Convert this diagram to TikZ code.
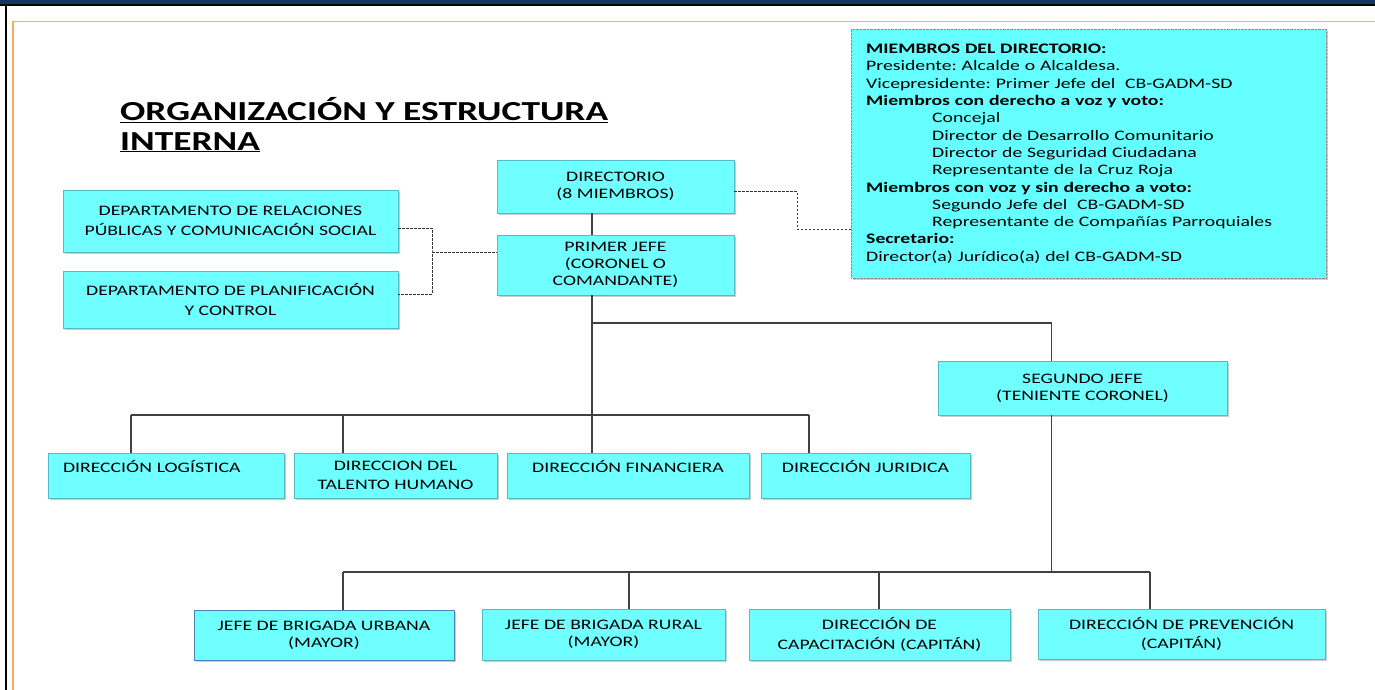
\documentclass[tikz,border=0pt]{standalone}
\usepackage{fontspec}
\setmainfont{Carlito}[FakeStretch=1.36]
\usetikzlibrary{shadows}
\definecolor{cian}{RGB}{112,255,255}
\definecolor{ciancaja}{RGB}{102,255,255}
\definecolor{bordecian}{RGB}{86,186,198}
\definecolor{azulborde}{RGB}{79,129,189}
\definecolor{marino}{RGB}{23,54,93}
\definecolor{naranja}{RGB}{247,170,105}
\frenchspacing

\begin{document}
\begin{tikzpicture}[x=1pt,y=-1pt,
	caja/.style={draw=bordecian, fill=cian, line width=0.8pt, align=center, inner sep=1pt,
		drop shadow={shadow xshift=1.5pt, shadow yshift=-2pt, opacity=0.4},
		font=\fontsize{14.5}{17}\selectfont},
	arriba/.style={text height=10pt, text depth=17pt},
	ancho/.style={font=\fontsize{14.5}{19.5}\selectfont},
	linea/.style={line width=1.2pt, color=black!75},
	punteado/.style={line width=0.9pt, dash pattern=on 2.5pt off 1.5pt, color=black!80}]

	\useasboundingbox (0,0) rectangle (1375,690);
	\fill[white] (0,0) rectangle (1375,690);

	%%%%% MARCO %%%%%
	\fill[marino] (0,0) rectangle (1375,4.5);
	\draw[line width=2pt] (0,5.5) -- (1375,5.5);
	\draw[line width=2pt] (6,5) -- (6,690);
	\draw[naranja, line width=1.5pt] (1375,21.5) -- (13,21.5) -- (13,690);

	\node[anchor=north west, inner sep=0pt, align=left, font=\bfseries\fontsize{27.5}{30}\selectfont] (titulo) at (120,97)
		{\underline{ORGANIZACIÓN Y ESTRUCTURA}\\\underline{INTERNA}};

	%%%%% CAJAS %%%%%
	\node[caja, minimum width=237, minimum height=53] (dir) at (615.5,186.5) {DIRECTORIO\\(8 MIEMBROS)};
	\node[caja, minimum width=237, minimum height=60] (pj) at (615.5,265) {PRIMER JEFE\\(CORONEL O\\COMANDANTE)};

	\node[caja, font=\fontsize{14.5}{20}\selectfont, minimum width=335, minimum height=62] (drp) at (230.5,221)
		{DEPARTAMENTO DE RELACIONES\\PÚBLICAS Y COMUNICACIÓN SOCIAL};
	\node[caja, font=\fontsize{14.5}{20}\selectfont, minimum width=335, minimum height=57] (dpc) at (230.5,299.5)
		{DEPARTAMENTO DE PLANIFICACIÓN\\Y CONTROL};

	\node[caja, minimum width=289, minimum height=54] (sj) at (1082.5,388) {SEGUNDO JEFE\\(TENIENTE CORONEL)};

	\node[caja, arriba, align=left, text width=206, inner xsep=15pt, minimum height=45] (dlog) at (166,475.5) {DIRECCIÓN LOGÍSTICA};
	\node[caja, ancho, minimum width=203, minimum height=45] (dtal) at (395.5,475.5) {DIRECCION DEL\\TALENTO HUMANO};
	\node[caja, arriba, minimum width=242, minimum height=45] (dfin) at (628,475.5) {DIRECCIÓN FINANCIERA};
	\node[caja, arriba, minimum width=209, minimum height=45] (djur) at (865.5,475.5) {DIRECCIÓN JURIDICA};

	\node[caja, draw=azulborde, minimum width=260, minimum height=50] (bur) at (324,635) {JEFE DE BRIGADA URBANA\\(MAYOR)};
	\node[caja, minimum width=243, minimum height=51] (bru) at (603.5,634.5) {JEFE DE BRIGADA RURAL\\(MAYOR)};
	\node[caja, ancho, minimum width=261, minimum height=51] (bcap) at (879.5,634.5) {DIRECCIÓN DE\\CAPACITACIÓN (CAPITÁN)};
	\node[caja, ancho, minimum width=287, minimum height=50] (bprev) at (1181.5,634) {DIRECCIÓN DE PREVENCIÓN\\(CAPITÁN)};

	\node[draw=black!45, densely dotted, fill=ciancaja, anchor=north west, minimum width=475, minimum height=249,
		text width=445, inner xsep=15pt, align=left, font=\fontsize{14.5}{17.3}\selectfont,
		drop shadow={shadow xshift=1.5pt, shadow yshift=-2pt, opacity=0.4}] (miem) at (851,29)
		{\textbf{MIEMBROS DEL DIRECTORIO:}\\
		Presidente: Alcalde o Alcaldesa.\\
		Vicepresidente: Primer Jefe del\ \ CB-GADM-SD\\
		\textbf{Miembros con derecho a voz y voto:}\\
		\hspace*{66pt}Concejal\\
		\hspace*{66pt}Director de Desarrollo Comunitario\\
		\hspace*{66pt}Director de Seguridad Ciudadana\\
		\hspace*{66pt}Representante de la Cruz Roja\\
		\textbf{Miembros con voz y sin derecho a voto:}\\
		\hspace*{66pt}Segundo Jefe del\ \ CB-GADM-SD\\
		\hspace*{66pt}Representante de Compañías Parroquiales\\
		\textbf{Secretario:}\\
		Director(a) Jurídico(a) del CB-GADM-SD};

	%%%%% CONECTORES %%%%%
	\foreach \n/\x in {dlog/131, dtal/343, dfin/592, djur/809}
		\draw[linea] (\x,415) coordinate (r-\n) -- (r-\n |- \n.north);
	\draw[linea] (r-dlog) -- (r-djur);
	\draw[linea] (dir.south -| r-dfin) -- (pj.north -| r-dfin);
	\draw[linea] (pj.south -| r-dfin) -- (r-dfin);

	\coordinate (codo) at (1051.5,323);
	\draw[linea] (r-dfin |- codo) -- (codo) -- (codo |- sj.north);

	\foreach \n/\x in {bur/343, bru/629, bcap/879, bprev/1150}
		\draw[linea] (\x,572) coordinate (r-\n) -- (r-\n |- \n.north);
	\draw[linea] (r-bur) -- (r-bprev);
	\draw[linea] (sj.south -| codo) -- (codo |- r-bur);

	\coordinate (pder) at (797,229);
	\draw[punteado] ([yshift=-5pt]dir.east) -| (pder) -- (pder -| miem.west);

	\coordinate (pizq) at (432,252);
	\draw[punteado] (pizq) -- (pj.west |- pizq);
	\draw[punteado] ([yshift=-7pt]drp.east) -| (pizq) |- ([yshift=5.5pt]dpc.east);

\end{tikzpicture}
\end{document}
